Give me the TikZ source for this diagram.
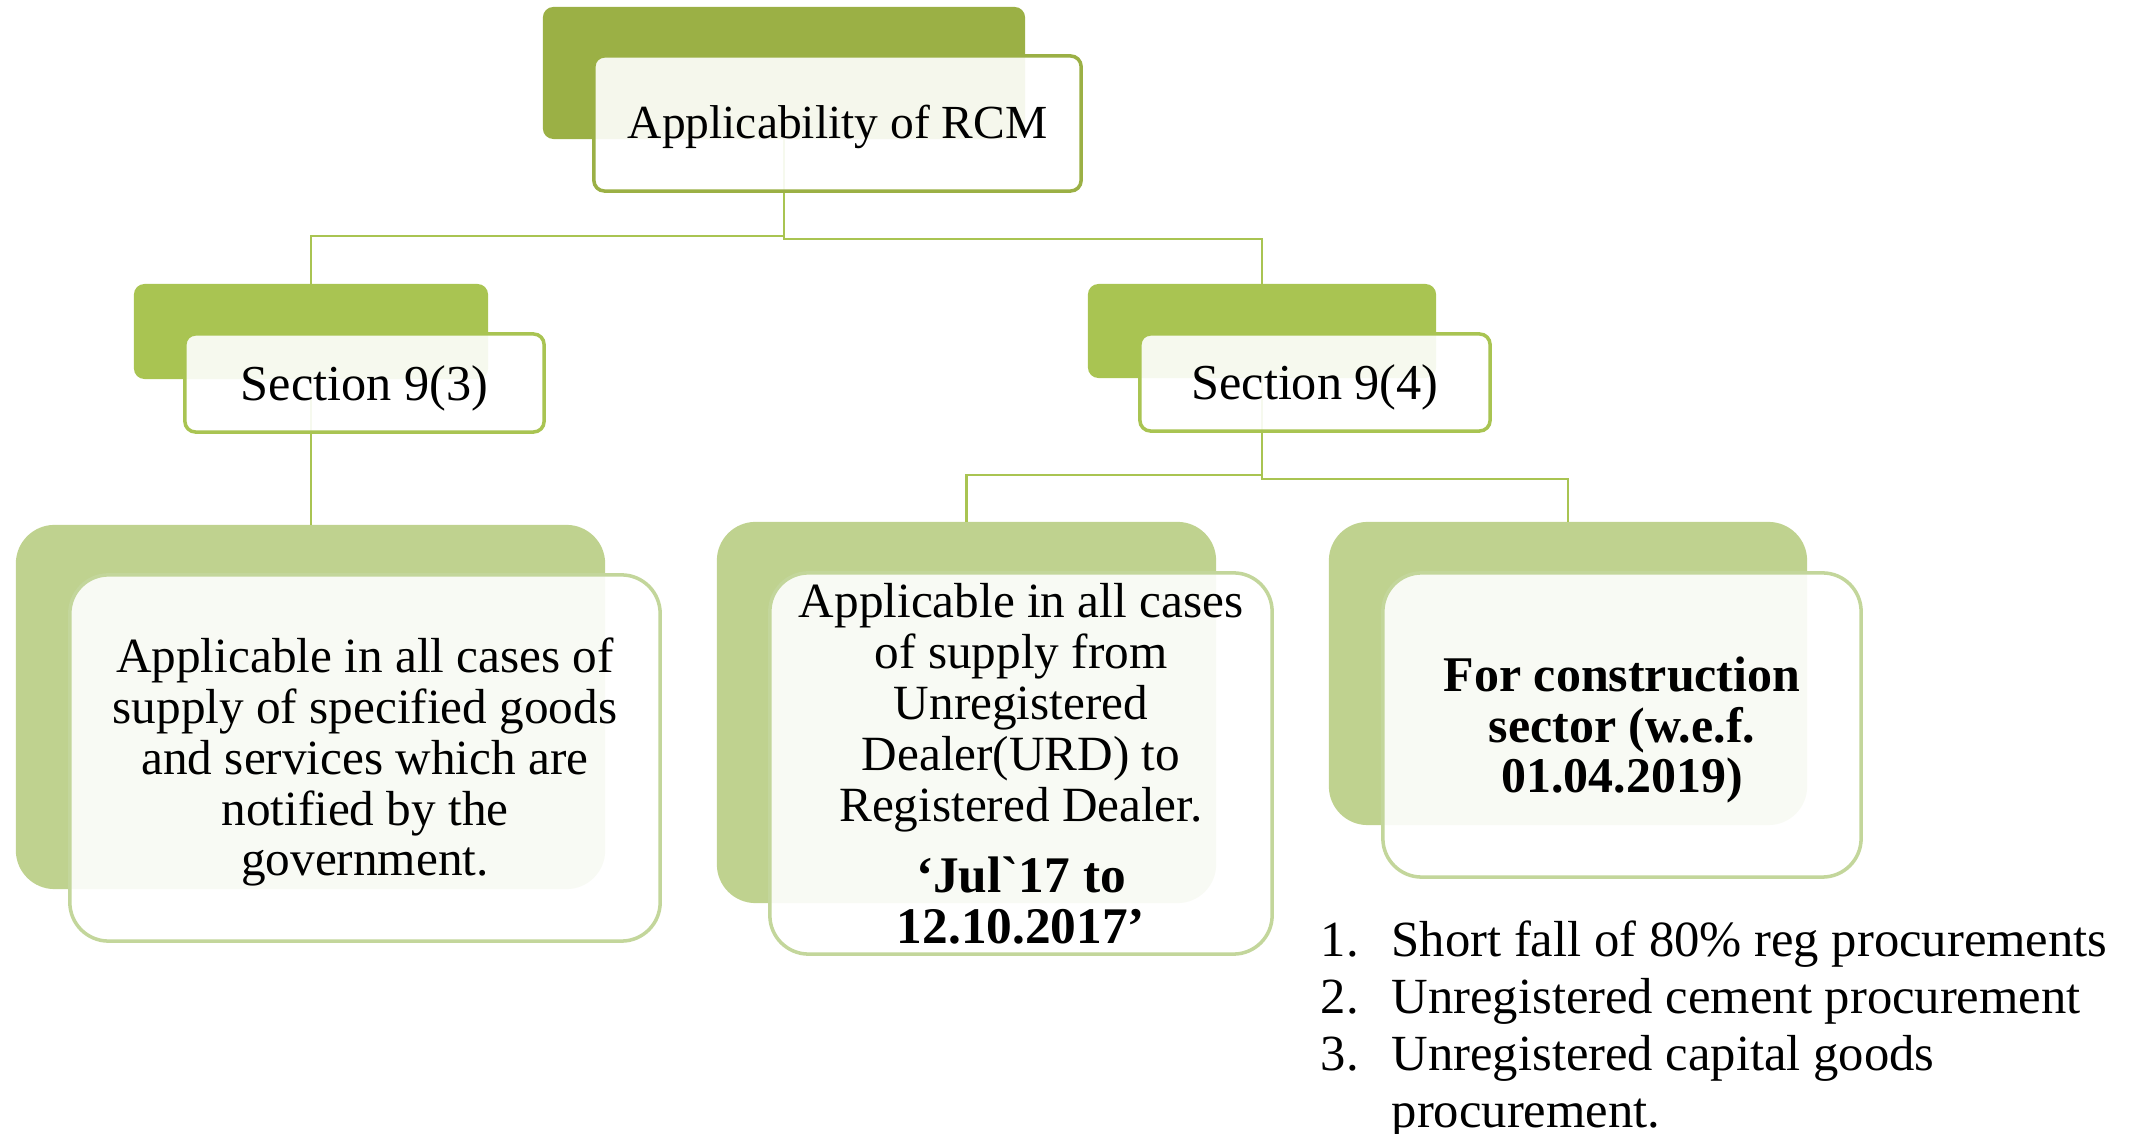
\documentclass[tikz,border=0pt]{standalone}
\usepackage{fontspec}
\newfontfamily\rfont{Liberation Serif}
\usetikzlibrary{calc}
\definecolor{gOlive}{HTML}{9BB045}
\definecolor{gMid}{HTML}{A9C452}
\definecolor{gLight}{HTML}{BFD28F}
\definecolor{gLightBorder}{HTML}{C3D69B}
\tikzset{
 box/.style={rectangle, inner sep=0pt, outer sep=0pt, anchor=center},
 backbox/.style={box, fill=#1, draw=none},
 frontbox/.style={box, draw=#1, line width=1pt, fill=white, fill opacity=0.9},
 txt/.style={inner sep=0pt, align=center, font=\rfont\fontsize{14}{14.5}\selectfont},
 smallr/.style={rounded corners=3pt},
 bigr/.style={rounded corners=11pt},
 link/.style={draw=gMid, line width=0.8pt},
}
\begin{document}
\begin{tikzpicture}[x=0.01cm,y=-0.01cm]
\useasboundingbox (0,0) rectangle (2138,1134);
% back boxes
\node[backbox=gOlive, smallr, minimum width=4.82cm, minimum height=1.32cm] (topB) at (784,73) {};
\node[backbox=gMid, smallr, minimum width=3.54cm, minimum height=0.95cm] (secthreeB) at (311,331.5) {};
\node[backbox=gMid, smallr, minimum width=3.48cm, minimum height=0.94cm] (secfourB) at (1262,331) {};
\node[backbox=gLight, bigr, minimum width=5.89cm, minimum height=3.64cm] (aB) at (310.5,707) {};
\node[backbox=gLight, bigr, minimum width=4.99cm, minimum height=3.81cm] (bB) at (966.5,712.5) {};
\node[backbox=gLight, bigr, minimum width=4.78cm, minimum height=3.03cm] (cB) at (1568,673.5) {};
% connectors
\draw[link] (topB.south) -- ++(0,97) -| (secthreeB.north);
\draw[link] (topB.south) -- ++(0,100) -| (secfourB.north);
\draw[link] (secthreeB.south) -- (secthreeB.south |- aB.north);
\draw[link] (secfourB.south) -- ++(0,97) -| (bB.north);
\draw[link] (secfourB.south) -- ++(0,101) -| (cB.north);
% front boxes
\node[frontbox=gOlive, smallr, minimum width=4.87cm, minimum height=1.35cm] (top) at (837.5,123.5) {};
\node[frontbox=gMid, smallr, minimum width=3.59cm, minimum height=0.98cm] (secthree) at (364.5,383) {};
\node[frontbox=gMid, smallr, minimum width=3.50cm, minimum height=0.97cm] (secfour) at (1315,382.5) {};
\node[frontbox=gLightBorder, bigr, minimum width=5.90cm, minimum height=3.66cm] (a) at (365,758) {};
\node[frontbox=gLightBorder, bigr, minimum width=5.02cm, minimum height=3.81cm] (b) at (1021,763.5) {};
\node[frontbox=gLightBorder, bigr, minimum width=4.78cm, minimum height=3.04cm] (c) at (1622,725) {};
% texts
\node[txt, font=\rfont\fontsize{13.5}{14.5}\selectfont, yshift=-0.03cm] (topT) at (top) {Applicability of RCM};
\node[txt, font=\rfont\fontsize{14.3}{14.5}\selectfont, yshift=-0.05cm] (secthreeT) at (secthree) {Section 9(3)};
\node[txt, font=\rfont\fontsize{14.3}{14.5}\selectfont, yshift=-0.05cm] (secfourT) at (secfour) {Section 9(4)};
\node[txt, yshift=-0.04cm] (aT) at (a) {Applicable in all cases of\\supply of specified goods\\and services which are\\notified by the\\government.};
\node[txt] (bT) at (b) {Applicable in all cases\\of supply from\\Unregistered\\Dealer(URD) to\\Registered Dealer.\\[5.7pt]{\bfseries\fontsize{14.6}{14.5}\selectfont ‘Jul`17 to}\\{\bfseries\fontsize{14.6}{14.5}\selectfont 12.10.2017’}};
\node[txt, font=\rfont\bfseries\fontsize{14.2}{14.5}\selectfont, yshift=-0.05cm] (cT) at (c) {For construction\\sector (w.e.f.\\01.04.2019)};
% list
\node[anchor=base west, inner sep=0pt, font=\rfont\fontsize{14.4}{16.2}\selectfont] (list) at (1320,957) {\renewcommand\arraystretch{1}\begin{tabular}[t]{@{}l@{}l@{}}
\makebox[0.71cm][l]{1.} & Short fall of 80\% reg procurements\\
\makebox[0.71cm][l]{2.} & Unregistered cement procurement\\
\makebox[0.71cm][l]{3.} & Unregistered capital goods\\
 & procurement.
\end{tabular}};
\end{tikzpicture}
\end{document}
